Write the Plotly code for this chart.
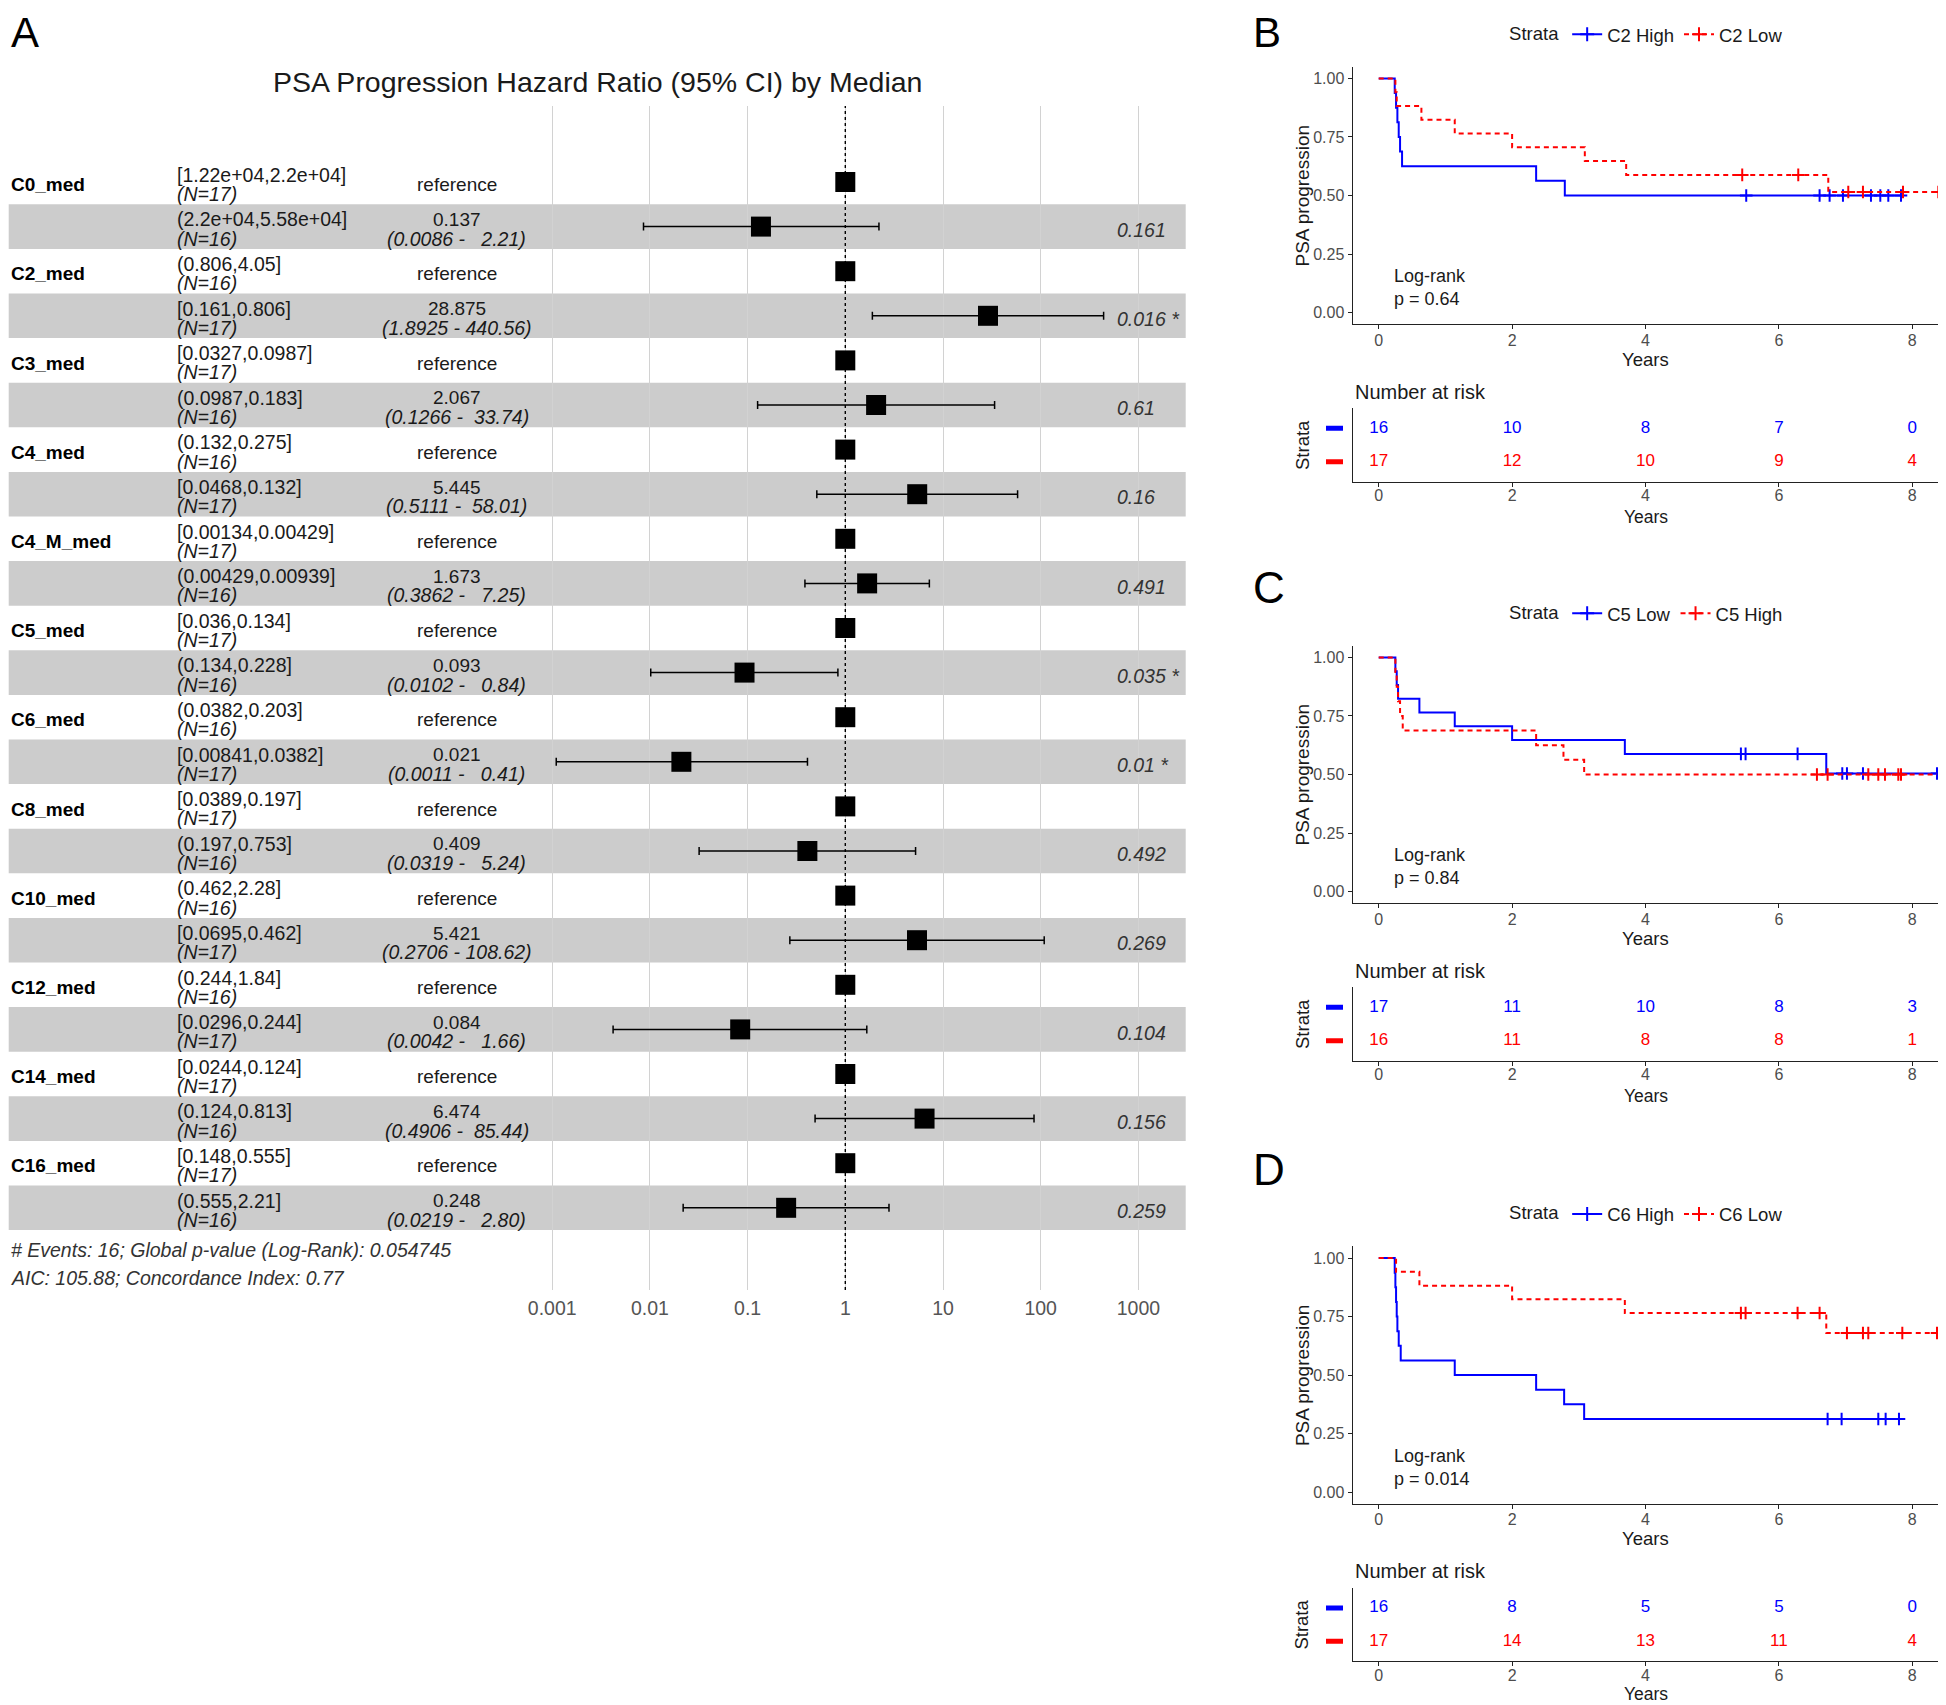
import plotly.graph_objects as go

# The page body has an 8px margin, so the figure is made 8px smaller and
# all pixel positions are measured in window pixels minus that margin.
PAGE_W, PAGE_H = 1946, 1705
BODY = 8
W, H = PAGE_W - BODY, PAGE_H - BODY
FONT = "Liberation Sans, Arial, Helvetica, sans-serif"
NARROW = "Liberation Sans Narrow, Arial Narrow, Liberation Sans, Arial, sans-serif"
BLUE = "#0000FF"
RED = "#FF0000"
TXT = "#1a1a1a"
TICK = "#4d4d4d"

# ------------------------------------------------------------------ forest data
variables = ["C0_med", "C2_med", "C3_med", "C4_med", "C4_M_med", "C5_med",
             "C6_med", "C8_med", "C10_med", "C12_med", "C14_med", "C16_med"]
ref_levels = ["[1.22e+04,2.2e+04]", "(0.806,4.05]", "[0.0327,0.0987]", "(0.132,0.275]",
              "[0.00134,0.00429]", "[0.036,0.134]", "(0.0382,0.203]", "[0.0389,0.197]",
              "(0.462,2.28]", "(0.244,1.84]", "[0.0244,0.124]", "[0.148,0.555]"]
ref_n = [17, 16, 17, 16, 17, 17, 16, 17, 16, 16, 17, 17]
cmp_levels = ["(2.2e+04,5.58e+04]", "[0.161,0.806]", "(0.0987,0.183]", "[0.0468,0.132]",
              "(0.00429,0.00939]", "(0.134,0.228]", "[0.00841,0.0382]", "(0.197,0.753]",
              "[0.0695,0.462]", "[0.0296,0.244]", "(0.124,0.813]", "(0.555,2.21]"]
cmp_n = [16, 17, 16, 17, 16, 16, 17, 16, 17, 17, 16, 16]
hr = [0.137, 28.875, 2.067, 5.445, 1.673, 0.093, 0.021, 0.409, 5.421, 0.084, 6.474, 0.248]
ci_low = [0.0086, 1.8925, 0.1266, 0.5111, 0.3862, 0.0102, 0.0011, 0.0319, 0.2706, 0.0042, 0.4906, 0.0219]
ci_high = [2.21, 440.56, 33.74, 58.01, 7.25, 0.84, 0.41, 5.24, 108.62, 1.66, 85.44, 2.80]
p_values = ["0.161", "0.016 *", "0.61", "0.16", "0.491", "0.035 *", "0.01 *", "0.492",
            "0.269", "0.104", "0.156", "0.259"]
ref_hr = 1.0
forest_ticks = [0.001, 0.01, 0.1, 1, 10, 100, 1000]
forest_ticktext = ["0.001", "0.01", "0.1", "1", "10", "100", "1000"]
forest_title = "PSA Progression Hazard Ratio (95% CI) by Median"
footer_1 = "# Events: 16; Global p-value (Log-Rank): 0.054745"
footer_2 = "AIC: 105.88; Concordance Index: 0.77"

# ------------------------------------------------------------------ Kaplan-Meier data
risk_times = [0, 2, 4, 6, 8]

# B : C2
c2_high_time = [0, 0.24, 0.26, 0.28, 0.30, 0.32, 0.35, 2.36, 2.79, 7.83]
c2_high_surv = [1.0, 0.9375, 0.875, 0.8125, 0.75, 0.6875, 0.625, 0.5625, 0.5, 0.5]
c2_high_censor = [5.51, 6.61, 6.76, 6.96, 7.38, 7.52, 7.64, 7.83]
c2_low_time = [0, 0.25, 0.27, 0.64, 1.14, 2.0, 3.09, 3.71, 6.74, 8.39]
c2_low_surv = [1.0, 0.941, 0.882, 0.824, 0.765, 0.706, 0.647, 0.588, 0.515, 0.515]
c2_low_censor = [5.45, 6.29, 7.04, 7.26, 7.86, 8.39]
c2_risk_high = [16, 10, 8, 7, 0]
c2_risk_low = [17, 12, 10, 9, 4]

# C : C5
c5_low_time = [0, 0.25, 0.27, 0.29, 0.61, 1.14, 2.0, 3.69, 6.71, 8.37]
c5_low_surv = [1.0, 0.941, 0.882, 0.824, 0.765, 0.706, 0.647, 0.588, 0.504, 0.504]
c5_low_censor = [5.43, 5.5, 6.28, 6.95, 7.02, 7.26, 8.37]
c5_high_time = [0, 0.25, 0.27, 0.29, 0.32, 0.36, 2.36, 2.77, 3.08, 8.37]
c5_high_surv = [1.0, 0.9375, 0.875, 0.8125, 0.75, 0.6875, 0.625, 0.5625, 0.5, 0.5]
c5_high_censor = [6.57, 6.73, 7.34, 7.49, 7.59, 7.79, 7.83]
c5_risk_low = [17, 11, 10, 8, 3]
c5_risk_high = [16, 11, 8, 8, 1]

# D : C6
c6_high_time = [0, 0.24, 0.25, 0.26, 0.27, 0.28, 0.30, 0.33, 1.14, 2.36, 2.78, 3.08, 7.8]
c6_high_surv = [1.0, 0.9375, 0.875, 0.8125, 0.75, 0.6875, 0.625, 0.5625, 0.5, 0.4375, 0.375, 0.3125, 0.3125]
c6_high_censor = [6.73, 6.94, 7.49, 7.6, 7.8]
c6_low_time = [0, 0.26, 0.61, 2.0, 3.69, 6.71, 8.37]
c6_low_surv = [1.0, 0.941, 0.882, 0.824, 0.765, 0.680, 0.680]
c6_low_censor = [5.43, 5.5, 6.28, 6.61, 7.02, 7.26, 7.34, 7.85, 8.37]
c6_risk_high = [16, 8, 5, 5, 0]
c6_risk_low = [17, 14, 13, 11, 4]

km_pvalues = ["0.64", "0.84", "0.014"]


def px_x(p):
    return (p - BODY) / W


def px_y(p):
    return 1 - (p - BODY) / H


def step_at(times, survs, t):
    val = survs[0]
    for ti, si in zip(times, survs):
        if ti <= t:
            val = si
    return val


fig = go.Figure()
annotations = []
shapes = []


def ann(text, x, y, xref="paper", yref="paper", size=19.5, color=TXT, xanchor="left",
        yanchor="middle", angle=0, align="left", family=FONT):
    annotations.append(dict(text=text, x=x, y=y, xref=xref, yref=yref, showarrow=False,
                            font=dict(size=size, color=color, family=family),
                            xanchor=xanchor, yanchor=yanchor, textangle=angle, align=align))


# ------------------------------------------------------------------ forest plot
ROW0, ROWH = 182.0, 44.6
Y_TOP_PX, Y_BOT_PX = 106.0, 1290.0
y_lo = (Y_BOT_PX - ROW0) / ROWH
y_hi = (Y_TOP_PX - ROW0) / ROWH
X_LEFT_PX, X_RIGHT_PX = 520.0, 1170.0
ONE_PX, DEC_PX = 845.3, 97.7
lx0 = (X_LEFT_PX - ONE_PX) / DEC_PX
lx1 = (X_RIGHT_PX - ONE_PX) / DEC_PX

ref_rows = [2 * k for k in range(len(variables))]
cmp_rows = [2 * k + 1 for k in range(len(variables))]

for r in cmp_rows:
    shapes.append(dict(type="rect", xref="paper", yref="y", x0=px_x(8.7), x1=px_x(1185.7),
                       y0=r - 0.5, y1=r + 0.5, fillcolor="#cccccc", line=dict(width=0),
                       layer="below"))

fig.add_trace(go.Scatter(x=[ref_hr, ref_hr], y=[y_lo, y_hi], mode="lines",
                         line=dict(color="black", width=1.4, dash="dot"),
                         xaxis="x", yaxis="y", showlegend=False, hoverinfo="skip"))
fig.add_trace(go.Scatter(
    x=hr, y=cmp_rows, mode="markers",
    marker=dict(symbol="square", size=20, color="black"),
    error_x=dict(type="data", symmetric=False,
                 array=[h - v for h, v in zip(ci_high, hr)],
                 arrayminus=[v - l for v, l in zip(hr, ci_low)],
                 color="black", thickness=1.5, width=4),
    xaxis="x", yaxis="y", showlegend=False))
fig.add_trace(go.Scatter(x=[ref_hr] * len(ref_rows), y=ref_rows, mode="markers",
                         marker=dict(symbol="square", size=20, color="black"),
                         xaxis="x", yaxis="y", showlegend=False))

COL_VAR, COL_GRP, COL_HR, COL_P = 8.9, 175.0, 456.5, 1115.0
NB = "\u00a0"
for k, var in enumerate(variables):
    r0, r1 = ref_rows[k], cmp_rows[k]
    ann(f"<b>{var}</b>", px_x(COL_VAR), r0 + 0.06, yref="y", color="black", size=19)
    ann(ref_levels[k], px_x(COL_GRP), r0 - 0.16, yref="y")
    ann(f"<i>(N={ref_n[k]})</i>", px_x(COL_GRP), r0 + 0.27, yref="y")
    ann("reference", px_x(COL_HR), r0 + 0.06, yref="y", xanchor="center", size=19)
    ann(cmp_levels[k], px_x(COL_GRP), r1 - 0.16, yref="y")
    ann(f"<i>(N={cmp_n[k]})</i>", px_x(COL_GRP), r1 + 0.27, yref="y")
    ann(f"{hr[k]:.3f}", px_x(COL_HR), r1 - 0.16, yref="y", xanchor="center", size=19)
    ci_txt = f"({ci_low[k]:.4f} - {ci_high[k]:6.2f})".replace(" ", NB)
    ann(f"<i>{ci_txt}</i>", px_x(COL_HR), r1 + 0.27, yref="y", xanchor="center")
    ann(f"<i>{p_values[k]}</i>", px_x(COL_P), r1 + 0.07, yref="y", color="#333333")

ann(forest_title, px_x(597.6), px_y(82), size=28.5, xanchor="center")
ann(f"<i>{footer_1}</i>", px_x(COL_VAR), px_y(1250), size=19.5, color="#333333")
ann(f"<i>{footer_2}</i>", px_x(COL_VAR), px_y(1277.7), size=19.5, color="#333333")
ann("A", px_x(9), px_y(32.5), size=42, color="black")

layout_axes = dict(
    xaxis=dict(type="log", domain=[px_x(X_LEFT_PX), px_x(X_RIGHT_PX)], range=[lx0, lx1],
               anchor="y", tickvals=forest_ticks, ticktext=forest_ticktext,
               showgrid=True, gridcolor="#d2d2d2", gridwidth=1, zeroline=False,
               showline=False, ticks="", ticklabelstandoff=4,
               tickfont=dict(size=19.5, color="#555555", family=FONT)),
    yaxis=dict(domain=[px_y(Y_BOT_PX), px_y(Y_TOP_PX)], range=[y_lo, y_hi], anchor="x",
               showgrid=False, zeroline=False, showticklabels=False, showline=False),
)

# ------------------------------------------------------------------ KM panels
panels = [
    dict(letter="B", letter_y=32.5, off=0.0, legend="legend",
         curves=[("C2 High", BLUE, "solid", c2_high_time, c2_high_surv, c2_high_censor, c2_risk_high),
                 ("C2 Low", RED, "5px,4px", c2_low_time, c2_low_surv, c2_low_censor, c2_risk_low)],
         p=km_pvalues[0]),
    dict(letter="C", letter_y=587.5, off=579.0, legend="legend2",
         curves=[("C5 Low", BLUE, "solid", c5_low_time, c5_low_surv, c5_low_censor, c5_risk_low),
                 ("C5 High", RED, "5px,4px", c5_high_time, c5_high_surv, c5_high_censor, c5_risk_high)],
         p=km_pvalues[1]),
    dict(letter="D", letter_y=1169.0, off=1179.6, legend="legend3",
         curves=[("C6 High", BLUE, "solid", c6_high_time, c6_high_surv, c6_high_censor, c6_risk_high),
                 ("C6 Low", RED, "5px,4px", c6_low_time, c6_low_surv, c6_low_censor, c6_risk_low)],
         p=km_pvalues[2]),
]

KM_LEFT = 1352.7
KM_X_RANGE = [-0.39, 8.505]
axis_common = dict(showgrid=False, zeroline=False, showline=True, linecolor="#222222",
                   linewidth=1.3, ticks="outside", ticklen=4, tickcolor="#222222",
                   tickfont=dict(size=16, color=TICK, family=NARROW))

for i, pnl in enumerate(panels):
    off = pnl["off"]
    xa, ya = 2 + 2 * i, 2 + 2 * i
    xt, yt = 3 + 2 * i, 3 + 2 * i
    xa_n, ya_n = f"x{xa}", f"y{ya}"
    xt_n, yt_n = f"x{xt}", f"y{yt}"

    layout_axes[f"xaxis{xa}"] = dict(domain=[px_x(KM_LEFT), 1.0], range=KM_X_RANGE, anchor=ya_n,
                                     tickvals=risk_times, ticklabelstandoff=-3, **axis_common)
    layout_axes[f"yaxis{ya}"] = dict(domain=[px_y(324.3 + off), px_y(66.7 + off)], range=[-0.05, 1.05],
                                     anchor=xa_n, tickvals=[0, 0.25, 0.5, 0.75, 1.0],
                                     ticktext=["0.00", "0.25", "0.50", "0.75", "1.00"], **axis_common)
    layout_axes[f"xaxis{xt}"] = dict(domain=[px_x(KM_LEFT), 1.0], range=KM_X_RANGE, anchor=yt_n,
                                     tickvals=risk_times, ticklabelstandoff=-5, **axis_common)
    ycm = dict(axis_common)
    ycm.update(ticks="", showticklabels=False)
    layout_axes[f"yaxis{yt}"] = dict(domain=[px_y(481.7 + off), px_y(408.3 + off)], range=[0.4, 2.6],
                                     anchor=xt_n, **ycm)

    for j, (name, col, dash, tt, ss, cens, risk) in enumerate(pnl["curves"]):
        fig.add_trace(go.Scatter(x=tt, y=ss, mode="lines", line=dict(color=col, width=2, dash=dash,
                                                                       shape="hv"),
                                 xaxis=xa_n, yaxis=ya_n, showlegend=False, hoverinfo="skip"))
        fig.add_trace(go.Scatter(x=cens, y=[step_at(tt, ss, c) for c in cens], mode="markers",
                                 marker=dict(symbol="cross-thin", size=9, color=col,
                                             line=dict(color=col, width=2)),
                                 xaxis=xa_n, yaxis=ya_n, showlegend=False, hoverinfo="skip"))
        # legend entry
        fig.add_trace(go.Scatter(x=[None], y=[None], mode="lines+markers", name=name,
                                 line=dict(color=col, width=2, dash=dash),
                                 marker=dict(symbol="cross-thin", size=10, color=col,
                                             line=dict(color=col, width=2)),
                                 xaxis=xa_n, yaxis=ya_n, legend=pnl["legend"], showlegend=True))
        # risk table row
        row_y = 2 - j
        fig.add_trace(go.Scatter(x=risk_times, y=[row_y] * len(risk_times), mode="text",
                                 text=[str(v) for v in risk], textposition="middle center",
                                 textfont=dict(size=17, color=col, family=FONT),
                                 xaxis=xt_n, yaxis=yt_n, showlegend=False, hoverinfo="skip"))
        shapes.append(dict(type="line", xref="paper", yref=yt_n, x0=px_x(1326), x1=px_x(1343),
                           y0=row_y, y1=row_y, line=dict(color=col, width=5)))

    # texts
    ann(pnl["letter"], px_x(1251), px_y(pnl["letter_y"]), size=42 if i == 0 else 44, color="black")
    ann("PSA progression", px_x(1302), px_y(195.5 + off), size=19, xanchor="center", angle=-90)
    ann(f"Log-rank<br>p = {pnl['p']}", 0.2, 0.107, xref=xa_n, yref=ya_n, size=18)
    ann("Years", 4, px_y(359.3 + off), xref=xa_n, size=18.5, xanchor="center")
    ann("Number at risk", px_x(1353), px_y(391.7 + off), size=20)
    ann("Strata", px_x(1302), px_y(445 + off), size=18.5, xanchor="center", angle=-90)
    ann("Years", 4, px_y(min(516.7 + off, 1693.5)), xref=xt_n, size=17.5, xanchor="center")

    layout_axes[pnl["legend"]] = dict(orientation="h", x=px_x(1647.6), xanchor="center",
                                      y=px_y(34.8 + off), yanchor="middle",
                                      title=dict(text="Strata", side="left",
                                                 font=dict(size=18.5, color=TXT, family=FONT)),
                                      font=dict(size=18.5, color=TXT, family=FONT),
                                      bgcolor="rgba(0,0,0,0)", itemwidth=30, traceorder="normal")

fig.update_layout(width=W, height=H, margin=dict(l=0, r=0, t=0, b=0),
                  paper_bgcolor="white", plot_bgcolor="rgba(0,0,0,0)",
                  font=dict(family=FONT, color=TXT), showlegend=True,
                  annotations=annotations, shapes=shapes, **layout_axes)

fig.write_html("out.html")
